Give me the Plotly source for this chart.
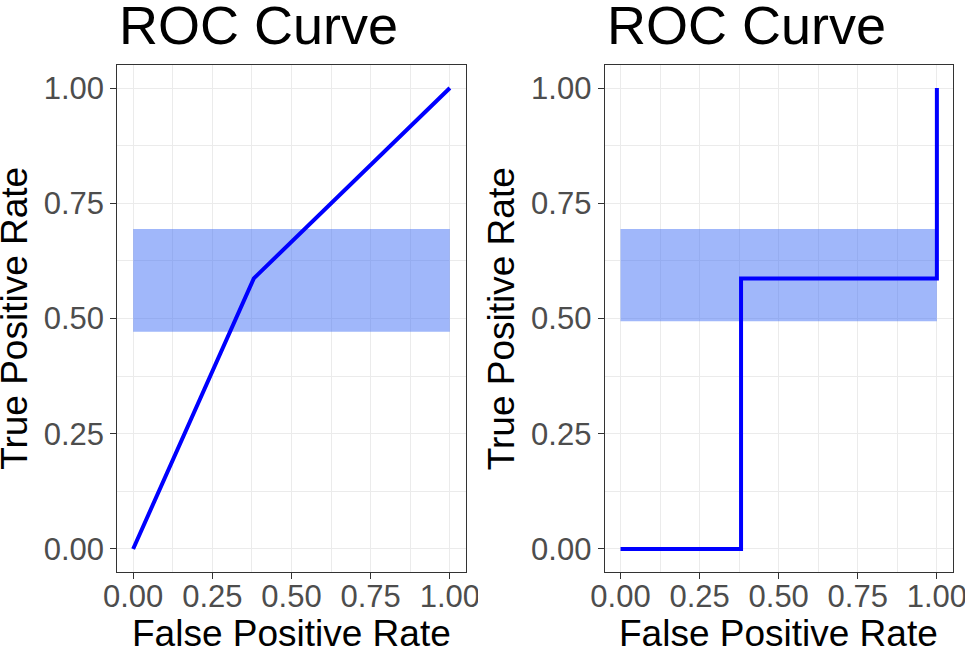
import plotly.graph_objects as go

# ---- data ----
fpr = [0.0, 0.381, 1.0]
tpr = [0.0, 0.587, 1.0]
ribbon_x = [0.0, 1.0]
ribbon_lower_left = [0.471, 0.471]
ribbon_upper_left = [0.694, 0.694]
ribbon_lower_right = [0.494, 0.494]
ribbon_upper_right = [0.694, 0.694]
tick_vals = [0.0, 0.25, 0.5, 0.75, 1.0]
tick_text = ["0.00", "0.25", "0.50", "0.75", "1.00"]
panel_title = "ROC Curve"
x_title = "False Positive Rate"
y_title = "True Positive Rate"

W, H = 965, 648
FONT = "Liberation Sans, Arial, Helvetica, sans-serif"
RIBBON = "rgba(66,112,245,0.5)"

fig = go.Figure()


def add_panel(xa, ya, lower, upper, shape):
    fig.add_trace(go.Scatter(x=ribbon_x, y=lower, mode="lines", line=dict(width=0),
                             hoverinfo="skip", showlegend=False, xaxis=xa, yaxis=ya))
    fig.add_trace(go.Scatter(x=ribbon_x, y=upper, mode="lines", line=dict(width=0),
                             fill="tonexty", fillcolor=RIBBON,
                             hoverinfo="skip", showlegend=False, xaxis=xa, yaxis=ya))
    fig.add_trace(go.Scatter(x=fpr, y=tpr, mode="lines",
                             line=dict(color="#0000FF", width=4, shape=shape),
                             showlegend=False, xaxis=xa, yaxis=ya))


add_panel("x", "y", ribbon_lower_left, ribbon_upper_left, "linear")
add_panel("x2", "y2", ribbon_lower_right, ribbon_upper_right, "hv")

ydom = [1 - 572 / H, 1 - 65 / H]
xdoms = [[117.3 / W, 465.7 / W], [604.7 / W, 952.7 / W]]

axis_common = dict(
    range=[-0.05, 1.05], tickmode="array", tickvals=tick_vals, ticktext=tick_text,
    showgrid=True, gridcolor="#EBEBEB", gridwidth=1.4,
    minor=dict(tickmode="linear", tick0=0, dtick=0.125, showgrid=True,
               gridcolor="#EBEBEB", gridwidth=1.0, ticks=""),
    showline=True, mirror=True, linecolor="#333333", linewidth=1.1,
    ticks="outside", ticklen=6, tickwidth=1.1, tickcolor="#333333",
    tickfont=dict(family=FONT, size=31, color="#4D4D4D"),
    zeroline=False, fixedrange=True, automargin=False,
)
xaxis_extra = dict(ticklabeloverflow="allow", ticklabelstandoff=-9)

layout = dict(
    width=W, height=H, margin=dict(l=0, r=0, t=0, b=0, autoexpand=False),
    paper_bgcolor="white", plot_bgcolor="white", showlegend=False,
    xaxis=dict(domain=xdoms[0], anchor="y", **axis_common, **xaxis_extra),
    yaxis=dict(domain=ydom, anchor="x", **axis_common),
    xaxis2=dict(domain=xdoms[1], anchor="y2", **axis_common, **xaxis_extra),
    yaxis2=dict(domain=ydom, anchor="x2", **axis_common),
)
fig.update_layout(**layout)

annos = []
for i, left in enumerate([117.3, 604.7]):
    right = left + 348.4
    annos.append(dict(text=panel_title, x=left / W, y=1 - 25 / H, xref="paper", yref="paper",
                      xanchor="left", yanchor="middle", showarrow=False,
                      font=dict(family=FONT, size=54, color="black")))
    annos.append(dict(text=x_title, x=(left + right) / 2 / W, y=1 - 633 / H, xref="paper",
                      yref="paper", xanchor="center", yanchor="middle", showarrow=False,
                      font=dict(family=FONT, size=37, color="black")))
    annos.append(dict(text=y_title, x=(left - 103) / W, y=1 - 318.5 / H, xref="paper",
                      yref="paper", xanchor="center", yanchor="middle", showarrow=False,
                      textangle=-90, font=dict(family=FONT, size=37, color="black")))
fig.update_layout(annotations=annos)

# clip the left panel's last x tick label as in the reference (plot viewport edge)
fig.add_shape(type="rect", xref="paper", yref="paper", layer="above",
              x0=478 / W, x1=540 / W, y0=1 - 615 / H, y1=1 - 578 / H,
              fillcolor="white", line=dict(width=0))

fig.write_html("out.html")
